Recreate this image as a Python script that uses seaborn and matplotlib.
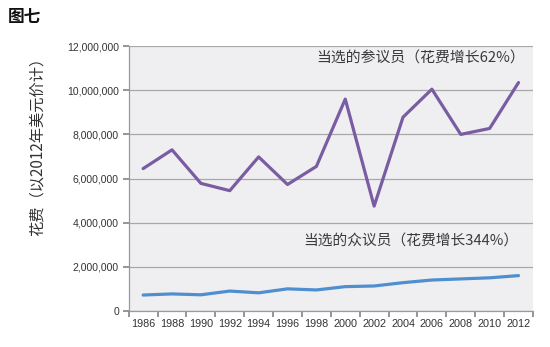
import matplotlib
matplotlib.use("Agg")
import matplotlib.pyplot as plt
import matplotlib.ticker as mticker
import seaborn as sns
import pandas as pd

years = ["1986", "1988", "1990", "1992", "1994", "1996", "1998",
         "2000", "2002", "2004", "2006", "2008", "2010", "2012"]
senate = [6.45e6, 7.3e6, 5.78e6, 5.45e6, 6.98e6, 5.73e6, 6.55e6,
          9.6e6, 4.75e6, 8.78e6, 10.05e6, 8.0e6, 8.27e6, 10.35e6]
house = [0.72e6, 0.77e6, 0.73e6, 0.9e6, 0.82e6, 1.0e6, 0.95e6,
         1.1e6, 1.13e6, 1.28e6, 1.4e6, 1.45e6, 1.5e6, 1.6e6]

title = "图七"
ylabel = "花费（以2012年美元价计）"
senate_label = "当选的参议员（花费增长62%）"
house_label = "当选的众议员（花费增长344%）"

sns.set_theme(style="white")
plt.rcParams["font.family"] = ["Noto Sans CJK SC", "DejaVu Sans"]

df = pd.DataFrame({"year": years * 2,
                   "value": senate + house,
                   "group": ["senate"] * len(years) + ["house"] * len(years)})

fig = plt.figure(figsize=(5.5, 3.47), dpi=100)
ax = fig.add_axes([0.234, 0.104, 0.735, 0.763])
ax.set_facecolor("#efeff2")

sns.lineplot(data=df, x="year", y="value", hue="group",
             palette={"senate": "#7a5ca3", "house": "#4f8fcf"},
             linewidth=2.3, sort=False, legend=False, ax=ax)

ax.set_xlim(-0.5, len(years) - 0.5)
ax.set_ylim(0, 12e6)
ax.yaxis.set_major_locator(mticker.MultipleLocator(2e6))
ax.yaxis.set_major_formatter(mticker.FuncFormatter(lambda v, p: f"{int(v):,}"))
ax.grid(axis="y", color="#a8a8a8", linewidth=0.9)
ax.set_axisbelow(True)

# category boundaries as tick marks, labels centred under each year
ax.set_xticks([i + 0.5 for i in range(-1, len(years))], minor=False)
ax.set_xticklabels([])
ax.set_xticks(range(len(years)), minor=True)
ax.set_xticklabels(years, minor=True)
ax.tick_params(axis="x", which="major", length=4, color="#888888", direction="out")
ax.tick_params(axis="x", which="minor", length=0, labelsize=7.8, pad=6, labelcolor="#333333")
ax.tick_params(axis="y", length=4, color="#888888", labelsize=7.5, labelcolor="#333333", pad=3)
for lab in ax.get_xticklabels(minor=True) + ax.get_yticklabels():
    lab.set_family(["Liberation Sans", "DejaVu Sans"])
ax.tick_params(axis="both", bottom=True, left=True)

for s in ["top", "right"]:
    ax.spines[s].set_visible(False)
for s in ["left", "bottom"]:
    ax.spines[s].set_color("#999999")
    ax.spines[s].set_linewidth(0.9)

ax.set_xlabel("")
ax.set_ylabel("")

ax.text(0.723, 0.955, senate_label, transform=ax.transAxes, ha="center", va="center",
        fontsize=10.7, color="#3a3a3a")
ax.text(0.698, 0.26, house_label, transform=ax.transAxes, ha="center", va="center",
        fontsize=10.6, color="#3a3a3a")

fig.text(37 / 550, 1 - 143 / 347, ylabel, rotation=90, ha="center", va="center",
         fontsize=11, color="#333333")
fig.text(0.015, 0.95, title, ha="left", va="center", fontsize=12, fontweight="bold",
         color="#111111")

fig.savefig("out.png", dpi=100, facecolor="white")
